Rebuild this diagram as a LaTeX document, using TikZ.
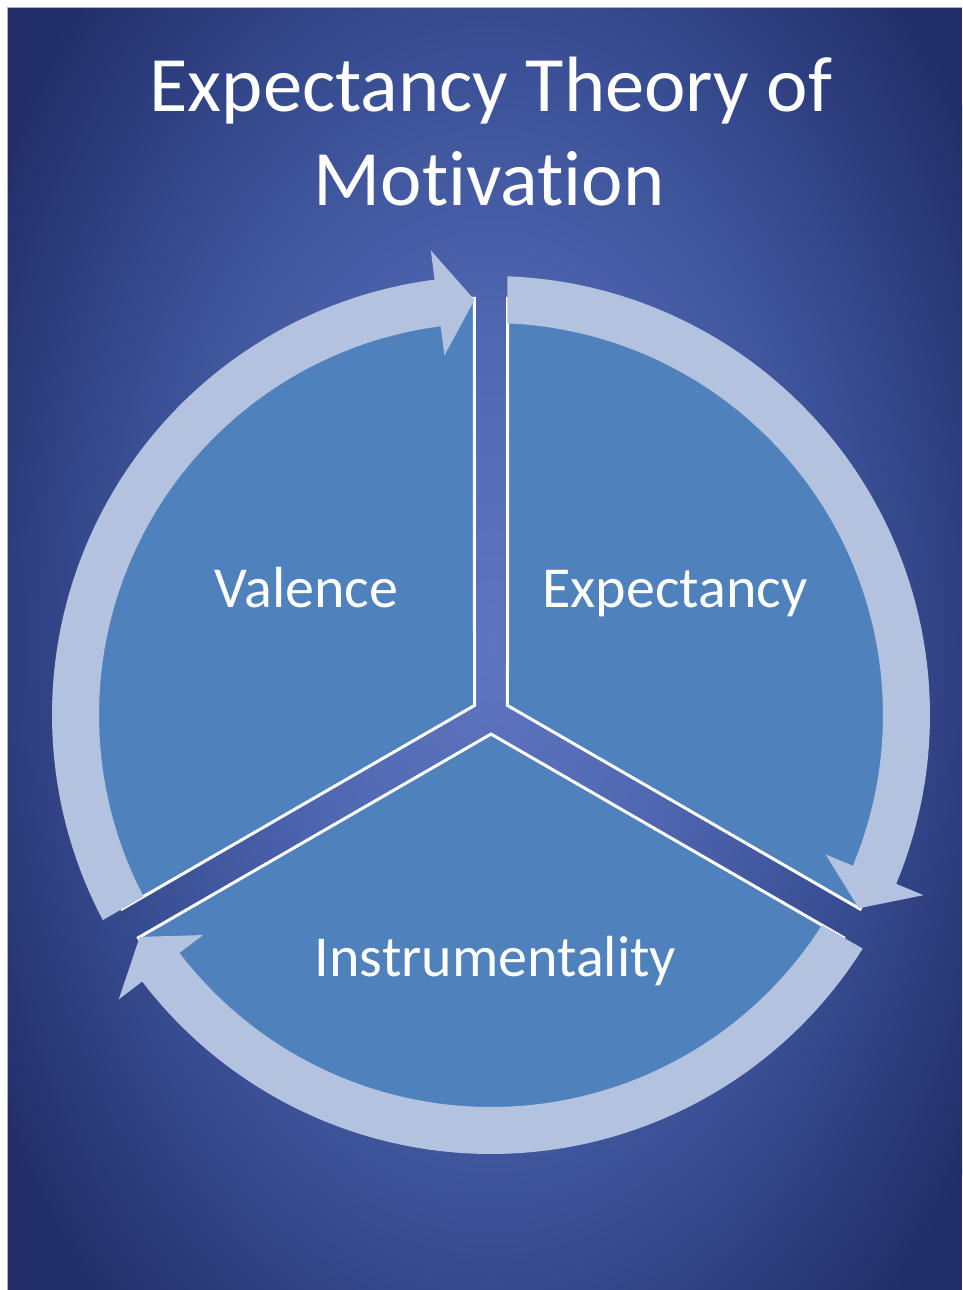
\documentclass[tikz,border=0pt]{standalone}
\usepackage{fontspec}
\setmainfont{Carlito}[Ligatures={NoCommon}]
\definecolor{glowA}{HTML}{5F74BF}
\definecolor{glowB}{HTML}{5068B2}
\definecolor{glowC}{HTML}{3A4F95}
\definecolor{glowD}{HTML}{212E68}
\definecolor{sectorblue}{HTML}{4F81BD}
\definecolor{ringblue}{HTML}{B3C2DE}
% soft glow behind the cycle; the path's box spans the inner 50bp square
\pgfdeclareradialshading{bgglow}{\pgfpoint{0bp}{0bp}}{%
  color(0bp)=(glowA); color(8bp)=(glowB); color(16bp)=(glowC); color(25bp)=(glowD); color(50bp)=(glowD)}
\tikzset{
  sector/.style={fill=sectorblue, draw=white, line width=3pt, line join=miter},
  ringarrow/.style={fill=ringblue},
  titletext/.style={text=white, font=\fontsize{78.5}{94}\selectfont, inner sep=0pt},
  labeltext/.style={text=white, font=\fontsize{58}{70}\selectfont, inner sep=0pt, anchor=base},
}
\begin{document}
\begin{tikzpicture}[x=1pt,y=1pt]
  % canvas, origin at the centre of the cycle
  \useasboundingbox (-491,-575) rectangle (471,715);
  \fill[white] (-491,-575) rectangle (471,715);
  \fill[glowD] (-483,-575) rectangle (471,707);
  \begin{scope}
    \clip (-483,-575) rectangle (471,707);
    \shade[shading=bgglow] (0,75) ellipse (580pt and 920pt);
  \end{scope}
  \draw[black!30, line width=1pt] (-483,-575) -- (-483,707) -- (471,707);

  % three exploded sectors
  \draw[sector] (30:19.05pt) -- (-27.73:417pt)
    arc[start angle=-27.73, end angle=87.73, radius=417pt] -- cycle;
  \draw[sector] (270:19.05pt) -- (212.27:417pt)
    arc[start angle=212.27, end angle=327.73, radius=417pt] -- cycle;
  \draw[sector] (150:19.05pt) -- (92.27:417pt)
    arc[start angle=92.27, end angle=207.73, radius=417pt] -- cycle;

  % circular arrows on the ring
  \fill[ringarrow] (207.85:439pt)
    arc[start angle=207.85, end angle=97.38, radius=439pt]
    -- (97.38:468.5pt) -- (92.28:415.5pt) -- (97.38:362.5pt) -- (97.38:392pt)
    arc[start angle=97.38, end angle=207.59, radius=392pt] -- cycle;
  \fill[ringarrow] (87.85:439pt)
    arc[start angle=87.85, end angle=-22.62, radius=439pt]
    -- (-22.62:468.5pt) -- (-27.72:415.5pt) -- (-22.62:362.5pt) -- (-22.62:392pt)
    arc[start angle=-22.62, end angle=87.59, radius=392pt] -- cycle;
  \fill[ringarrow] (-32.15:439pt)
    arc[start angle=-32.15, end angle=-142.62, radius=439pt]
    -- (-142.62:468.5pt) -- (-147.72:415.5pt) -- (-142.62:362.5pt) -- (-142.62:392pt)
    arc[start angle=-142.62, end angle=-32.41, radius=392pt] -- cycle;

  % texts
  \node[titletext, anchor=base] (title1) at (0,603) {Expectancy Theory of};
  \node[titletext, anchor=base] (title2) at (-2,509) {Motivation};
  \node[labeltext] (valence) at (-184.5,107) {Valence};
  \node[labeltext] (expectancy) at (184,107) {Expectancy};
  \node[labeltext] (instrumentality) at (4.5,-261) {Instrumentality};
\end{tikzpicture}
\end{document}
